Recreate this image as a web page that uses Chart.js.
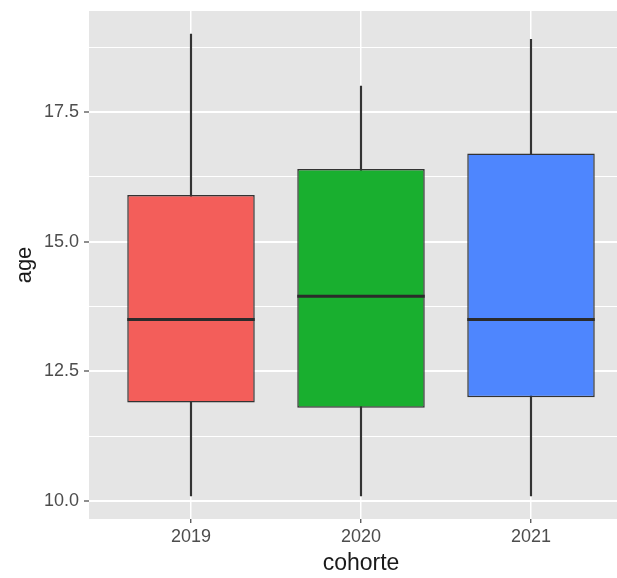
<!DOCTYPE html>
<html>
<head>
<meta charset="utf-8">
<script src="https://cdn.jsdelivr.net/npm/chart.js@4/dist/chart.umd.min.js"></script>
<style>
	body { margin: 0; background: #fff; overflow: hidden; }
	/* the panel runs past the right edge of the picture, as in the original */
	#wrap { width: 633px; height: 578px; position: relative; }
</style>
</head>
<body>
<div id="wrap"><canvas id="chart"></canvas></div>
<script>
// data
var cohorts = ["2019", "2020", "2021"];
var lows = [10.1, 10.1, 10.1];
var q1s = [11.9, 11.8, 12.0];
var medians = [13.5, 13.95, 13.5];
var q3s = [15.9, 16.4, 16.7];
var highs = [19.0, 18.0, 18.9];
var fills = ["#F35E5A", "#19AF2F", "#4E86FE"];

// y grid: majors get a label, minors do not
var yTicks = [10, 11.25, 12.5, 13.75, 15, 16.25, 17.5, 18.75];
var yMajor = [10, 12.5, 15, 17.5];

var boxData = [], whiskerData = [];
for( var i = 0; i < cohorts.length; i++ ){
	boxData.push( { x: i + 1, y: [ q1s[i], q3s[i] ] } );
	whiskerData.push( { x: i + 1, y: [ lows[i], highs[i] ] } );
}

//grey panel behind the grid
var panelBg = {
	id: "panelBg",
	beforeDraw: function( chart ){
		var a = chart.chartArea, ctx = chart.ctx;
		ctx.save();
		ctx.fillStyle = "#E5E5E5";
		ctx.fillRect( a.left, a.top, a.right - a.left, a.bottom - a.top );
		ctx.restore();
	}
};

//median line across each box
var medianLines = {
	id: "medianLines",
	afterDatasetsDraw: function( chart ){
		var ctx = chart.ctx, yScale = chart.scales.y;
		var meta = chart.getDatasetMeta(0);
		ctx.save();
		ctx.strokeStyle = "#2b2b2b";
		ctx.lineWidth = 3;
		meta.data.forEach( function( bar, i ){
			var y = yScale.getPixelForValue( medians[i] );
			ctx.beginPath();
			ctx.moveTo( bar.x - bar.width / 2, y );
			ctx.lineTo( bar.x + bar.width / 2, y );
			ctx.stroke();
		});
		ctx.restore();
	}
};

new Chart( document.getElementById("chart"), {
	type: "bar",
	data: {
		datasets: [{
			label: "box",
			data: boxData,
			backgroundColor: fills,
			borderColor: "#333333",
			borderWidth: 1.5,
			borderSkipped: false,
			grouped: false,
			barPercentage: 0.75,
			categoryPercentage: 1
		},{
			label: "whisker",
			data: whiskerData,
			backgroundColor: "#333333",
			barThickness: 1.5,
			borderSkipped: false,
			grouped: false
		}]
	},
	options: {
		responsive: true,
		maintainAspectRatio: false,
		animation: false,
		layout: { padding: { top: 11, right: 0, left: 0, bottom: 0 } },
		plugins: {
			legend: { display: false },
			tooltip: { enabled: false }
		},
		scales: {
			x: {
				type: "linear",
				min: 0.4,
				max: 3.6,
				offset: false,
				afterBuildTicks: function( scale ){
					scale.ticks = cohorts.map( function( c, i ){ return { value: i + 1 }; } );
				},
				afterFit: function( scale ){ scale.height = 59; },
				border: { display: false },
				grid: {
					offset: false,
					color: "#FFFFFF",
					lineWidth: 1.5,
					tickColor: "#444444",
					tickLength: 4,
					tickWidth: 1.2
				},
				ticks: {
					color: "#4D4D4D",
					font: { family: "Liberation Sans", size: 18 },
					padding: 3,
					autoSkip: false,
					maxRotation: 0,
					callback: function( value ){ return cohorts[value - 1]; }
				},
				title: {
					display: true,
					text: "cohorte",
					color: "#1a1a1a",
					font: { family: "Liberation Sans", size: 23 },
					padding: { top: 0, bottom: 1 }
				}
			},
			y: {
				min: 9.655,
				max: 19.445,
				afterBuildTicks: function( scale ){
					scale.ticks = yTicks.map( function( v ){ return { value: v }; } );
				},
				afterFit: function( scale ){
					scale.width = 89;
					scale.paddingTop = 0;
					scale.paddingBottom = 0;
				},
				border: { display: false },
				grid: {
					color: "#FFFFFF",
					lineWidth: function( c ){ return yMajor.indexOf( c.tick.value ) >= 0 ? 2 : 1; },
					tickColor: function( c ){ return yMajor.indexOf( c.tick.value ) >= 0 ? "#444444" : "rgba(0,0,0,0)"; },
					tickLength: 5,
					tickWidth: 1.2
				},
				ticks: {
					color: "#4D4D4D",
					font: { family: "Liberation Sans", size: 18 },
					padding: 5,
					callback: function( value ){
						return yMajor.indexOf( value ) >= 0 ? value.toFixed(1) : "";
					}
				},
				title: {
					display: true,
					text: "age",
					color: "#1a1a1a",
					font: { family: "Liberation Sans", size: 22 },
					padding: { top: 12, bottom: 0 }
				}
			}
		}
	},
	plugins: [ panelBg, medianLines ]
});
</script>
</body>
</html>
